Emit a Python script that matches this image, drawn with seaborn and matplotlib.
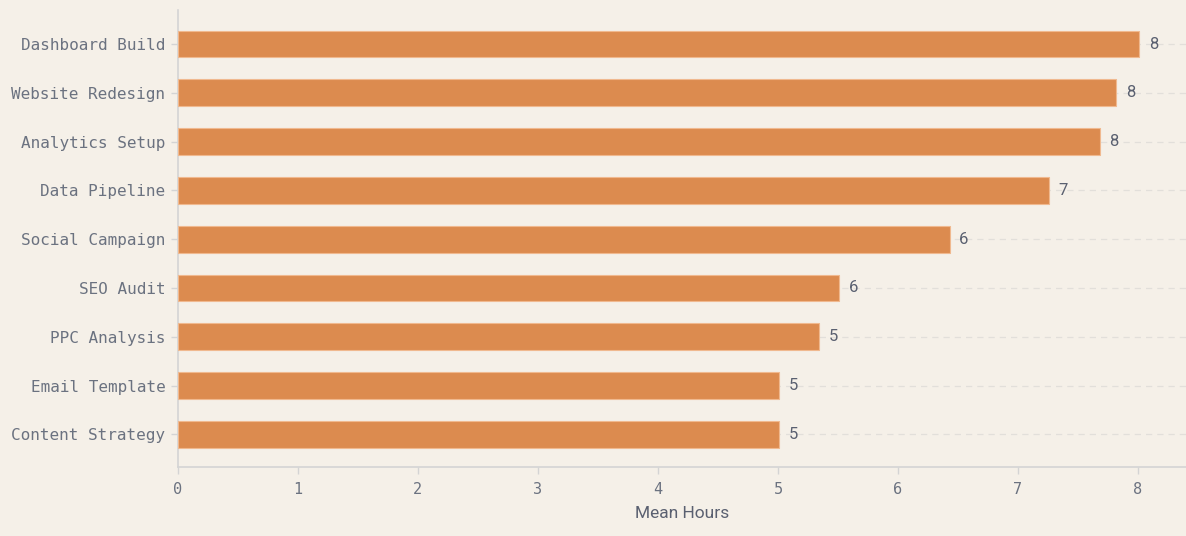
import matplotlib
matplotlib.use("Agg")
import matplotlib.pyplot as plt
import seaborn as sns
import pandas as pd

categories = ["Dashboard Build", "Website Redesign", "Analytics Setup", "Data Pipeline",
              "Social Campaign", "SEO Audit", "PPC Analysis", "Email Template", "Content Strategy"]
mean_hours = [8.01, 7.82, 7.68, 7.26, 6.43, 5.51, 5.34, 5.01, 5.01]

df = pd.DataFrame({"task": categories, "hours": mean_hours})

BG = "#F5F0E8"
BAR = "#DC8B4F"
TXT = "#6B7280"
SPINE = "#D4D4D4"

sns.set_theme(style="white")
plt.rcParams["font.family"] = ["DejaVu Sans"]

fig = plt.figure(figsize=(11.86, 5.36), dpi=100, facecolor=BG)
ax = fig.add_axes([0.150, 0.1287, 0.850, 0.852])
ax.set_facecolor(BG)

sns.barplot(data=df, x="hours", y="task", orient="h", color=BAR, width=0.55,
            edgecolor="#F0B98F", linewidth=0.8, saturation=1, ax=ax, zorder=3)

for i in range(len(categories)):
    ax.axhline(i, color="#E2DFDA", linestyle=(0, (5, 4)), linewidth=0.9, zorder=1)

for i, v in enumerate(mean_hours):
    ax.text(v + 0.08, i, f"{round(v):d}", va="center", ha="left",
            fontsize=12, color="#5A6070", family=["Roboto", "DejaVu Sans"], zorder=4)

ax.set_xlim(0, 8.4)
ax.set_ylim(8.67, -0.69)
ax.set_xticks(range(0, 9))
ax.set_ylabel("")
ax.set_xlabel("Mean Hours", fontsize=12.5, color="#5A6070", family=["Roboto", "DejaVu Sans"], labelpad=6)

for lab in ax.get_yticklabels() + ax.get_xticklabels():
    lab.set_family(["DejaVu Sans Mono"])
    lab.set_color(TXT)
for lab in ax.get_yticklabels():
    lab.set_fontsize(11.5)
for lab in ax.get_xticklabels():
    lab.set_fontsize(11)

ax.tick_params(axis="both", bottom=True, left=True, length=5, width=1, color=SPINE, pad=4)
ax.tick_params(axis="x", pad=6)

for s in ["top", "right"]:
    ax.spines[s].set_visible(False)
for s in ["left", "bottom"]:
    ax.spines[s].set_color(SPINE)
    ax.spines[s].set_linewidth(1.2)

fig.savefig("out.png", dpi=100, facecolor=BG)
